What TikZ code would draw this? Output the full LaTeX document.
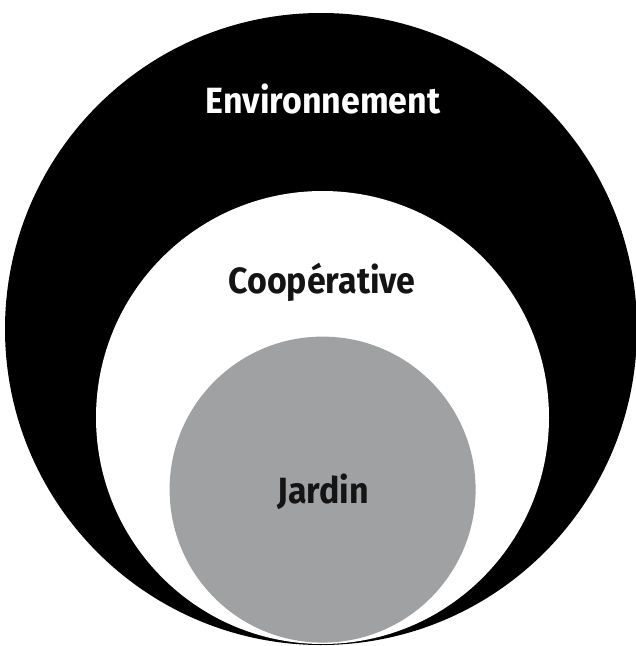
\documentclass[tikz,border=0pt]{standalone}
\usepackage{fontspec}
\setmainfont{Fira Sans}
\definecolor{jardingray}{RGB}{160,161,163}
\definecolor{inktext}{RGB}{20,20,20}
\begin{document}
\begin{tikzpicture}[x=1pt,y=-1pt,
  ring/.style={circle,inner sep=0pt,outer sep=0pt,draw=none},
  lbl/.style={anchor=base,font=\bfseries\fontsize{36.5}{42}\selectfont,inner sep=0pt,xscale=0.93,transform shape}]
\useasboundingbox (0,0) rectangle (636,646);
\node[ring,fill=black,minimum size=632pt] (env) at (321,329) {};
\node[ring,fill=white,minimum size=453pt] (coop) at (322.5,417.5) {};
\node[ring,fill=jardingray,minimum size=306pt] (jard) at (322.6,489.6) {};
\node[lbl,text=white] (tenv) at (323,113.5) {Environnement};
\node[lbl,text=inktext] (tcoop) at (322,293) {Coopérative};
\node[lbl,text=inktext] (tjard) at (323,503) {Jardin};
\end{tikzpicture}
\end{document}
